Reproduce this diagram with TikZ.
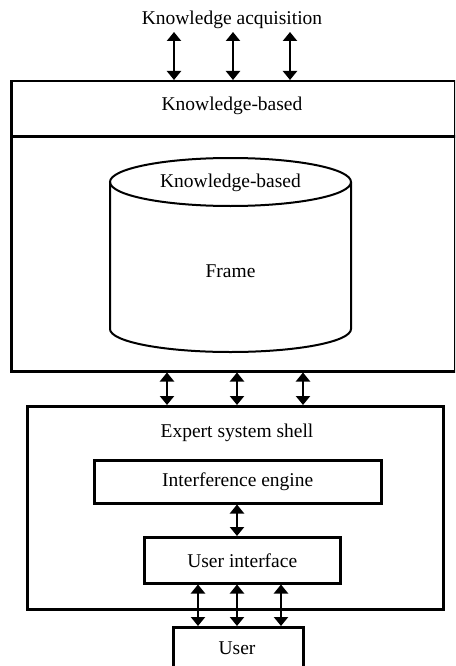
\documentclass[tikz,border=0pt]{standalone}
\usepackage{fontspec}
\setmainfont{Liberation Serif}
\usetikzlibrary{arrows.meta}
\begin{document}
\begin{tikzpicture}[x=1pt,y=1pt,
  box/.style={draw,line width=2.5pt,minimum width=#1,anchor=north west,inner sep=0pt},
  lbl/.style={inner sep=0pt,font=\fontsize{19.5}{23}\selectfont},
  biarrow/.style={line width=2.5pt,{Triangle[width=14pt,length=9pt]}-{Triangle[width=14pt,length=9pt]}}]
\useasboundingbox (0,0) rectangle (455,-666);
\clip (0,0) rectangle (455,-666);
\fill[white] (0,0) rectangle (455,-666);
% boxes
\node[box=444pt,minimum height=55pt] (kbhead) at (10,-80) {};
\node[box=444pt,minimum height=235pt] (kbbody) at (10,-135) {};
\node[box=416pt,minimum height=203pt] (shell) at (26,-405) {};
\node[box=287pt,minimum height=43pt] (ie) at (93,-459) {};
\node[box=196pt,minimum height=46pt] (ui) at (143,-536) {};
\node[box=130pt,minimum height=60pt] (user) at (172,-626) {};
% cylinder
\draw[line width=2pt] (110,-182) -- (110,-329) arc[start angle=180,end angle=360,x radius=120.5,y radius=23] -- (351,-182);
\draw[line width=2pt] (230.5,-182) ellipse[x radius=120.5,y radius=24];
% labels
\node[lbl] (acq) at (232,-20) {Knowledge acquisition};
\node[lbl] (kbtxt) at (232,-106) {Knowledge-based};
\node[lbl] (cyltxt) at (230.5,-183) {Knowledge-based};
\node[lbl] (frame) at (230.5,-271) {Frame};
\node[lbl] (shelltxt) at (237,-433) {Expert system shell};
\node[lbl] at (ie.center) {Interference engine};
\node[lbl] at (ui.center) {User interface};
\node[lbl] at (237,-648) {User};
% arrow coordinates
\coordinate (t1) at (174,-32);
\coordinate (t2) at (233,-32);
\coordinate (t3) at (290,-32);
\coordinate (m1) at (167,0);
\coordinate (m2) at (237,0);
\coordinate (m3) at (303,0);
\coordinate (c1) at (237,0);
\coordinate (b1) at (198,0);
\coordinate (b2) at (237,0);
\coordinate (b3) at (281,0);
% arrows
\foreach \t in {t1,t2,t3}{\draw[biarrow] (\t) -- (kbhead.north -| \t);}
\foreach \m in {m1,m2,m3}{\draw[biarrow] (kbbody.south -| \m) -- (shell.north -| \m);}
\draw[biarrow] (ie.south -| c1) -- (ui.north -| c1);
\foreach \b in {b1,b2,b3}{\draw[biarrow] (ui.south -| \b) -- (user.north -| \b);}
\end{tikzpicture}
\end{document}
